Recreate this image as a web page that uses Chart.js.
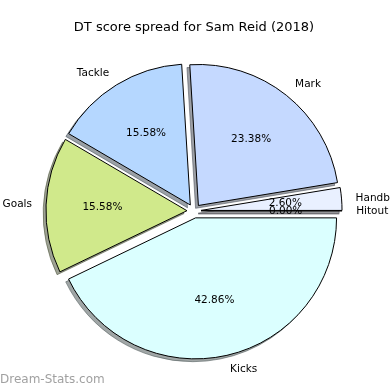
<!DOCTYPE html>
<html>
<head>
<meta charset="utf-8">
<script src="https://cdn.jsdelivr.net/npm/chart.js@4.4.0/dist/chart.umd.min.js"></script>
<style>
  html, body { margin: 0; padding: 0; background: #fff; }
  canvas { display: block; }
</style>
</head>
<body>
<canvas id="c" width="390" height="390"></canvas>
<script>
// Data (order: clockwise from 3 o'clock, i.e. matplotlib counter-clockwise reversed)
const categories = ['Kicks', 'Goals', 'Tackle', 'Mark', 'Handball', 'Hitout'];
const values = [33, 12, 12, 18, 2, 0];
const sliceColors = ['#dbffff', '#d0e98b', '#b5d7ff', '#c5d9ff', '#e9f0ff', '#f0f0ff'];
const titleText = 'DT score spread for Sam Reid (2018)';
const watermark = 'Dream-Stats.com';

const EXPLODE = 0.05;     // fraction of radius
const SHADOW = 0.02;      // fraction of radius
const FONT = '"DejaVu Sans", "Liberation Sans", sans-serif';

function shadowColor(hex) {
  const r = parseInt(hex.slice(1, 3), 16), g = parseInt(hex.slice(3, 5), 16), b = parseInt(hex.slice(5, 7), 16);
  return `rgba(${Math.round(r * 0.3)},${Math.round(g * 0.3)},${Math.round(b * 0.3)},0.5)`;
}

const explodePlugin = {
  id: 'explodeDraw',
  beforeDatasetDraw(chart, args) {
    const ctx = chart.ctx;
    const meta = chart.getDatasetMeta(args.index);
    const total = values.reduce((a, b) => a + b, 0);
    const els = meta.data;
    // pass 1: shadows
    els.forEach((el, i) => {
      const r = el.outerRadius;
      const mid = (el.startAngle + el.endAngle) / 2;
      const cx = el.x + EXPLODE * r * Math.cos(mid) - SHADOW * r;
      const cy = el.y + EXPLODE * r * Math.sin(mid) + SHADOW * r;
      ctx.save();
      ctx.beginPath();
      ctx.moveTo(cx, cy);
      ctx.arc(cx, cy, r, el.startAngle, el.endAngle);
      ctx.closePath();
      ctx.fillStyle = shadowColor(sliceColors[i]);
      ctx.strokeStyle = shadowColor(sliceColors[i]);
      ctx.lineWidth = 1;
      ctx.fill();
      ctx.stroke();
      ctx.restore();
    });
    // pass 2: slices
    els.forEach((el, i) => {
      const r = el.outerRadius;
      const mid = (el.startAngle + el.endAngle) / 2;
      const dx = EXPLODE * r * Math.cos(mid);
      const dy = EXPLODE * r * Math.sin(mid);
      ctx.save();
      ctx.translate(dx, dy);
      if (el.endAngle - el.startAngle === 0) {
        ctx.beginPath();
        ctx.moveTo(el.x, el.y);
        ctx.lineTo(el.x + r * Math.cos(el.startAngle), el.y + r * Math.sin(el.startAngle));
        ctx.strokeStyle = '#000';
        ctx.lineWidth = 1;
        ctx.stroke();
      } else {
        el.draw(ctx);
      }
      ctx.restore();
    });
    // labels
    ctx.save();
    ctx.font = '10.5px ' + FONT;
    ctx.fillStyle = '#000';
    ctx.textBaseline = 'middle';
    els.forEach((el, i) => {
      const r = el.outerRadius;
      const mid = (el.startAngle + el.endAngle) / 2;
      const cx = el.x + EXPLODE * r * Math.cos(mid);
      const cy = el.y + EXPLODE * r * Math.sin(mid);
      const lx = cx + 1.1 * r * Math.cos(mid);
      const ly = cy + 1.1 * r * Math.sin(mid);
      ctx.textAlign = Math.cos(mid) >= 0 ? 'left' : 'right';
      ctx.fillText(categories[i], lx, ly);
      const px = cx + 0.6 * r * Math.cos(mid);
      const py = cy + 0.6 * r * Math.sin(mid);
      ctx.textAlign = 'center';
      ctx.fillText((values[i] / total * 100).toFixed(2) + '%', px, py);
    });
    ctx.restore();
    return false;
  },
  afterDraw(chart) {
    const ctx = chart.ctx;
    ctx.save();
    ctx.font = '12px ' + FONT;
    ctx.fillStyle = 'rgba(120,120,120,0.7)';
    ctx.textAlign = 'left';
    ctx.textBaseline = 'middle';
    ctx.fillText(watermark, 0, 380);
    ctx.restore();
  }
};

new Chart(document.getElementById('c'), {
  type: 'pie',
  data: {
    labels: categories,
    datasets: [{
      data: values,
      backgroundColor: sliceColors,
      borderColor: '#000',
      borderWidth: 1
    }]
  },
  options: {
    responsive: false,
    devicePixelRatio: 1,
    animation: false,
    rotation: 90,
    radius: 141,
    layout: { padding: { left: 0, right: 2, top: 0, bottom: 3.6 } },
    plugins: {
      legend: { display: false },
      tooltip: { enabled: false },
      title: {
        display: true,
        text: titleText,
        color: '#000',
        font: { family: FONT, size: 13, weight: 'normal', lineHeight: 1.2 },
        padding: { top: 20, bottom: 0 }
      }
    }
  },
  plugins: [explodePlugin]
});
</script>
</body>
</html>
